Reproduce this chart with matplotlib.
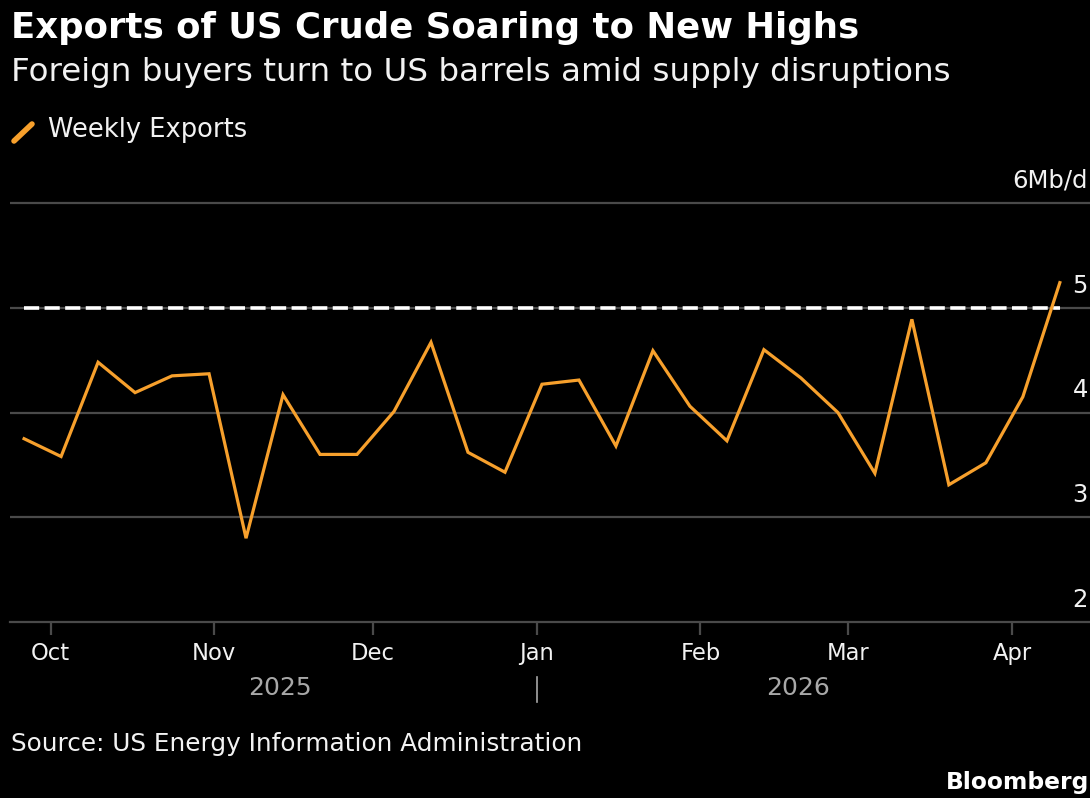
import datetime as dt

import matplotlib
matplotlib.use("Agg")
import matplotlib.pyplot as plt
import matplotlib.dates as mdates
from matplotlib.lines import Line2D

# Weekly US crude exports, million barrels per day (week ending Friday)
start = dt.date(2025, 9, 26)
weekly_exports = [3.75, 3.58, 4.48, 4.19, 4.35, 4.37, 2.80, 4.17, 3.60, 3.60,
                  4.01, 4.67, 3.62, 3.43, 4.27, 4.31, 3.68, 4.59, 4.06, 3.73,
                  4.60, 4.33, 4.00, 3.42, 4.89, 3.31, 3.52, 4.15, 5.24]
dates = [start + dt.timedelta(weeks=i) for i in range(len(weekly_exports))]
record_level = 5.0
y_ticks = [2, 3, 4, 5, 6]
y_labels = ["2", "3", "4", "5", "6Mb/d"]

BG = "black"
ORANGE = "#f7a02c"
GRID = "#4a4a4a"
TXT = "#f2f2f2"
YEAR = "#a8a8a8"

W, H = 1090, 798
fig = plt.figure(figsize=(W / 100, H / 100), dpi=100, facecolor=BG)
plt.rcParams["font.family"] = ["DejaVu Sans"]


def fx(px):
    return px / W


def fy(py):
    return 1 - py / H


# axes: x from 10px to right edge, y=2 at 622px, y=6.05 just above 203px
ax = fig.add_axes([fx(10), fy(622), fx(1080), (622 - 197.8) / H])
ax.set_facecolor(BG)
ax.set_ylim(2, 6.05)
ax.set_xlim(dt.datetime(2025, 9, 23, 8), dt.datetime(2026, 4, 15, 17))

for v in y_ticks[1:]:
    ax.axhline(v, color=GRID, lw=1.6, zorder=1)
ax.hlines(record_level, dates[0], dates[-1], colors="white", lw=2.6,
          linestyles=(0, (4.2, 1.5)), zorder=2)
ax.plot(dates, weekly_exports, color=ORANGE, lw=2.3, zorder=3,
        solid_joinstyle="miter")

for s in ["top", "left", "right"]:
    ax.spines[s].set_visible(False)
ax.spines["bottom"].set_color(GRID)
ax.spines["bottom"].set_linewidth(1.6)
ax.set_yticks([])

ax.xaxis.set_major_locator(mdates.MonthLocator())
ax.xaxis.set_major_formatter(mdates.DateFormatter("%b"))
ax.tick_params(axis="x", colors=GRID, length=9.5, width=1.6, pad=5,
               labelcolor=TXT, labelsize=16.3)

# y labels sit just above their gridlines, at the right edge
for v, lab in zip(y_ticks, y_labels):
    ax.annotate(lab, xy=(1.0, v), xycoords=("axes fraction", "data"),
                xytext=(-1.5, 16), textcoords="offset points",
                ha="right", va="center", color=TXT, fontsize=17.5)

# year labels under the month labels
jan = dt.datetime(2026, 1, 1)
d0 = dt.datetime.combine(dates[0], dt.time())
d1 = dt.datetime.combine(dates[-1], dt.time())
for lab, a, b in [("2025", d0, jan), ("2026", jan, d1)]:
    mid = a + (b - a) / 2
    ax.annotate(lab, xy=(mid, 0), xycoords=("data", "axes fraction"),
                xytext=(0, -47.5), textcoords="offset points",
                ha="center", va="center", color=YEAR, fontsize=18)
ax.plot([jan, jan], [-0.13, -0.189], transform=ax.get_xaxis_transform(),
        color=YEAR, lw=1.2, clip_on=False)

# header
fig.text(fx(11), fy(28), "Exports of US Crude Soaring to New Highs",
         color="white", fontsize=25.6, fontweight="bold", va="center")
fig.text(fx(11), fy(72), "Foreign buyers turn to US barrels amid supply disruptions",
         color=TXT, fontsize=23.4, va="center")

# legend
fig.add_artist(Line2D([fx(14), fx(32)], [fy(141), fy(124)], color=ORANGE,
                      lw=4, solid_capstyle="round"))
fig.text(fx(48), fy(130), "Weekly Exports", color=TXT, fontsize=18.5, va="center")

# footer
fig.text(fx(11), fy(744), "Source: US Energy Information Administration",
         color=TXT, fontsize=17.8, va="center")
fig.text(fx(1089), fy(782), "Bloomberg", color="white", fontsize=16.8,
         fontweight="bold", ha="right", va="center")

fig.savefig("out.png", dpi=100, facecolor=BG)
